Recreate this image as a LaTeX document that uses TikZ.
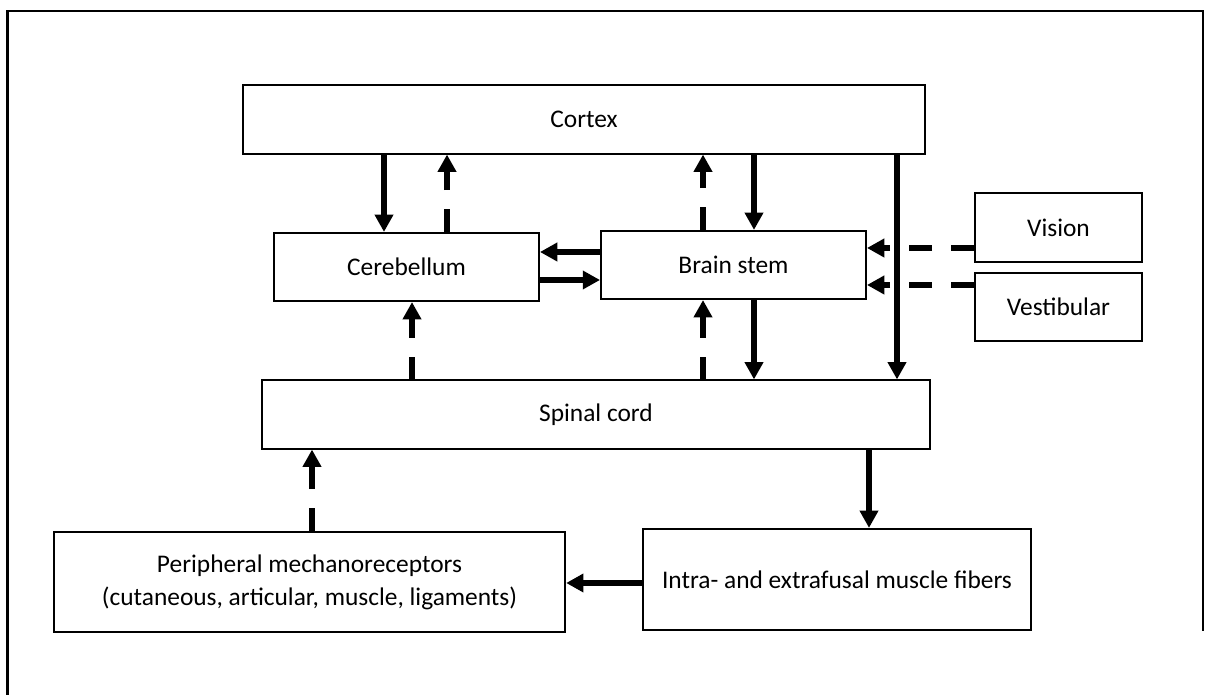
\documentclass[tikz,border=0pt]{standalone}
\usepackage{fontspec}
\setmainfont{Carlito}
\usepackage{tikz}
\usetikzlibrary{arrows.meta,positioning,calc}

\tikzset{
  block/.style={draw=black, line width=0.8pt, minimum height=26.8pt, inner sep=0pt, align=center},
  feed/.style={line width=2.4pt, -{Triangle[width=7pt,length=6.8pt]}},
  afferent/.style={feed, dash pattern=on 9pt off 7.5pt}
}

\begin{document}
\begin{tikzpicture}[x=0.3937pt, y=-0.3937pt, font=\fontsize{10}{13}\selectfont]
        \useasboundingbox (0,0) rectangle (1207,695);
        % frame
        \draw[line width=1pt] (7.5,695) -- (7.5,11) -- (1203,11) -- (1203,631);

        % boxes
        \node[block, minimum width=268.5pt] (cortex) at (584,119.5) {Cortex};
        \node[block, minimum width=104.3pt] (cereb) at (406.5,267) {Cerebellum};
        \node[block, minimum width=104.3pt] (stem) at (733.5,265) {Brain stem};
        \node[block, minimum width=65.7pt] (vision) at (1058.5,227.5) {Vision};
        \node[block, minimum width=65.7pt] (vestib) at (1058.5,307) {Vestibular};
        \node[block, minimum width=263pt] (spinal) at (596,414.5) {Spinal cord};
        \node[block, minimum width=152.7pt, minimum height=39.8pt] (muscle) at (837,579.5) {Intra- and extrafusal muscle fibers};
        \node[block, minimum width=201.3pt, minimum height=39.4pt] (periph) at (309.5,582) {Peripheral mechanoreceptors\\(cutaneous, articular, muscle, ligaments)};

        % descending
        \draw[feed] (cortex.south -| 384,0) -- (cereb.north -| 384,0);
        \draw[feed] (cortex.south -| 754,0) -- (stem.north -| 754,0);
        \draw[feed] (cortex.south -| 897,0) -- (spinal.north -| 897,0);
        \draw[feed] (stem.south -| 754,0) -- (spinal.north -| 754,0);
        \draw[feed] (spinal.south -| 869,0) -- (muscle.north -| 869,0);
        \draw[feed] (stem.west |- 0,252) -- (cereb.east |- 0,252);
        \draw[feed] (cereb.east |- 0,280) -- (stem.west |- 0,280);
        \draw[feed] (muscle.west |- 0,583) -- (periph.east |- 0,583);

        % ascending
        \draw[afferent] (cereb.north -| 447,0) -- (cortex.south -| 447,0);
        \draw[afferent] (stem.north -| 703,0) -- (cortex.south -| 703,0);
        \draw[afferent] (spinal.north -| 412,0) -- (cereb.south -| 412,0);
        \draw[afferent] (spinal.north -| 703,0) -- (stem.south -| 703,0);
        \draw[afferent] (periph.north -| 312,0) -- (spinal.south -| 312,0);
        \draw[afferent] (vision.west |- 0,248) -- (stem.east |- 0,248);
        \draw[afferent] (vestib.west |- 0,285) -- (stem.east |- 0,285);
\end{tikzpicture}
\end{document}
